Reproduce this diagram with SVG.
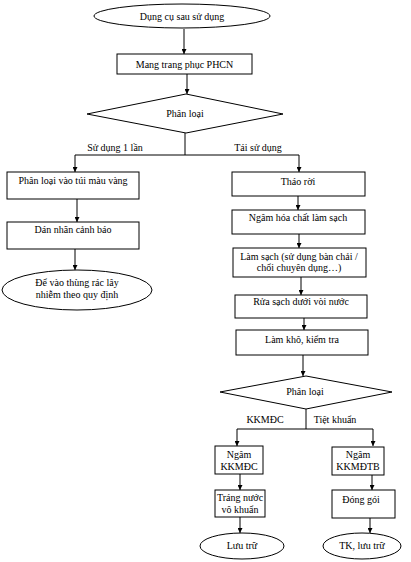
<svg xmlns="http://www.w3.org/2000/svg" width="411" height="562" viewBox="0 0 411 562">
<defs>
<marker id="ah" viewBox="0 0 6 6" refX="6" refY="3" markerWidth="5" markerHeight="5" orient="auto" markerUnits="userSpaceOnUse">
<path d="M0,0 L6,3 L0,6 z" fill="#000"/>
</marker>
</defs>
<style>
.s{fill:#fff;stroke:#000;stroke-width:1}
.t{font-family:"Liberation Serif","Times New Roman",serif;font-size:10px;fill:#000;text-anchor:middle}
.c{fill:none;stroke:#000;stroke-width:1}
.a{marker-end:url(#ah)}
</style>
<rect width="411" height="562" fill="#fff"/>
<g id="connectors">
<line class="c a" x1="184" y1="29" x2="184" y2="54"/>
<line class="c a" x1="187" y1="74" x2="187" y2="94"/>
<polyline class="c" points="185,133 185,155"/>
<polyline class="c a" points="185,155 75,155 75,172"/>
<polyline class="c a" points="185,155 299,155 299,172"/>
<line class="c a" x1="77" y1="199" x2="77" y2="222"/>
<line class="c a" x1="75" y1="249" x2="75" y2="270"/>
<line class="c a" x1="298" y1="196" x2="298" y2="210"/>
<line class="c a" x1="299" y1="234" x2="299" y2="248"/>
<line class="c a" x1="301" y1="277" x2="301" y2="295"/>
<line class="c a" x1="304" y1="318" x2="304" y2="330"/>
<line class="c a" x1="303" y1="355" x2="303" y2="376"/>
<polyline class="c" points="306,409 306,429"/>
<polyline class="c a" points="306,429 237,429 237,446"/>
<polyline class="c a" points="306,429 373,429 373,446"/>
<line class="c a" x1="240" y1="474" x2="240" y2="490"/>
<line class="c a" x1="240" y1="517" x2="240" y2="533"/>
<line class="c a" x1="372" y1="475" x2="372" y2="490"/>
<line class="c a" x1="370" y1="518" x2="370" y2="533"/>
<text class="t" x="115" y="151">Sử dụng 1 lần</text>
<text class="t" x="258" y="151">Tái sử dụng</text>
<text class="t" x="265" y="423">KKMĐC</text>
<text class="t" x="335" y="423">Tiệt khuẩn</text>
</g>
<g id="n1"><ellipse class="s" cx="182" cy="16" rx="88" ry="12"/><text class="t" x="182" y="20">Dụng cụ sau sử dụng</text></g>
<g id="n2"><rect class="s" x="117" y="54" width="135" height="20"/><text class="t" x="184.5" y="68">Mang trang phục PHCN</text></g>
<g id="n3"><polygon class="s" points="87,114 186,94 283,114 186,133"/><text class="t" x="185" y="117">Phân loại</text></g>
<g id="n4"><rect class="s" x="7" y="172" width="132" height="27"/><text class="t" x="73" y="184">Phân loại vào túi màu vàng</text></g>
<g id="n5"><rect class="s" x="7" y="222" width="132" height="27"/><text class="t" x="73" y="233">Dán nhãn cảnh báo</text></g>
<g id="n6"><ellipse class="s" cx="77" cy="290" rx="75" ry="20"/><text class="t" x="77" y="286">Để vào thùng rác lây</text><text class="t" x="77" y="298">nhiễm theo quy định</text></g>
<g id="n7"><rect class="s" x="232" y="172" width="133" height="24"/><text class="t" x="298" y="185">Tháo rời</text></g>
<g id="n8"><rect class="s" x="232" y="210" width="133" height="24"/><text class="t" x="298" y="221">Ngâm hóa chất làm sạch</text></g>
<g id="n9"><rect class="s" x="233" y="248" width="133" height="29"/><text class="t" x="299" y="260">Làm sạch (sử dụng bàn chải /</text><text class="t" x="299" y="271">chổi chuyên dụng…)</text></g>
<g id="n10"><rect class="s" x="235" y="295" width="132" height="23"/><text class="t" x="301" y="305">Rửa sạch dưới vòi nước</text></g>
<g id="n11"><rect class="s" x="236" y="330" width="132" height="25"/><text class="t" x="302" y="343">Làm khô, kiểm tra</text></g>
<g id="n12"><polygon class="s" points="220,392 306,376 392,392 306,409"/><text class="t" x="305" y="395">Phân loại</text></g>
<g id="n13"><rect class="s" x="215" y="446" width="48" height="28"/><text class="t" x="239" y="458">Ngâm</text><text class="t" x="239" y="470">KKMĐC</text></g>
<g id="n14"><rect class="s" x="215" y="490" width="50" height="27"/><text class="t" x="240" y="501">Tráng nước</text><text class="t" x="240" y="513">vô khuẩn</text></g>
<g id="n15"><ellipse class="s" cx="242" cy="546" rx="42" ry="13"/><text class="t" x="242" y="549">Lưu trữ</text></g>
<g id="n16"><rect class="s" x="332" y="447" width="52" height="28"/><text class="t" x="358" y="458">Ngâm</text><text class="t" x="358" y="470">KKMĐTB</text></g>
<g id="n17"><rect class="s" x="332" y="490" width="63" height="28"/><text class="t" x="361" y="503">Đóng gói</text></g>
<g id="n18"><ellipse class="s" cx="362" cy="546" rx="39" ry="13"/><text class="t" x="362" y="549">TK, lưu trữ</text></g>
</svg>
